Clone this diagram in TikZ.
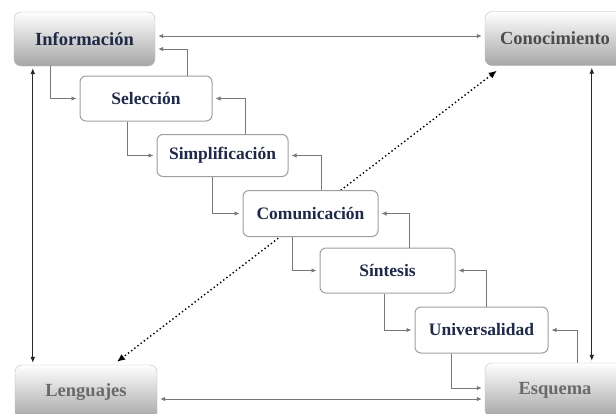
\documentclass[tikz,border=0pt]{standalone}
\usepackage{fontspec}
\setmainfont{Liberation Serif}
\usetikzlibrary{arrows.meta}
\definecolor{navy}{HTML}{1F2A48}
\definecolor{lgray}{HTML}{6A6A6A}
\definecolor{cgray}{HTML}{777777}
\tikzset{
  corner/.style={draw=gray!55, rounded corners=7pt, top color=white, bottom color=gray!70,
    minimum width=141pt, minimum height=54pt, inner sep=0pt,
    font=\fontsize{18.5}{21}\selectfont\bfseries},
  stage/.style={draw=gray!75, line width=1pt, rounded corners=6pt, fill=white,
    minimum height=45pt, inner sep=0pt, text=navy,
    font=\fontsize{17.5}{20}\selectfont\bfseries},
  conn/.style={draw=cgray, line width=0.9pt, -{Latex[length=5pt,width=4.5pt]}, shorten >=3pt},
  biconn/.style={draw=cgray, line width=0.9pt, {Latex[length=5pt,width=4.5pt]}-{Latex[length=5pt,width=4.5pt]}, shorten >=3pt, shorten <=3pt},
  blackconn/.style={draw=black!85, line width=1pt, {Latex[length=6pt,width=5pt]}-{Latex[length=6pt,width=5pt]}, shorten >=2pt, shorten <=2pt},
  dotconn/.style={draw=black, line width=1.4pt, dash pattern=on 1.4pt off 2.6pt, {Latex[length=8pt,width=7pt]}-{Latex[length=8pt,width=7pt]}}
}
\begin{document}
\begin{tikzpicture}[x=1pt,y=-1pt]
\useasboundingbox (0,0) rectangle (616,413);
% corner nodes
\node[corner, text=navy] (info) at (84.5,39) {Información};
\node[corner, text=black!70, minimum width=140pt] (conoc) at (555,38.5) {Conocimiento};
\node[corner, text=lgray, minimum width=142pt] (leng) at (86,392) {Lenguajes};
\node[corner, text=lgray, minimum width=140pt] (esq) at (555,390) {Esquema};
% dotted diagonal (behind stages)
\draw[dotconn] ([xshift=12pt,yshift=-5pt]conoc.south west) -- ([xshift=31pt,yshift=3pt]leng.north);
% stages
\node[stage, minimum width=132pt] (sel) at (146,98.5) {Selección};
\node[stage, minimum width=131pt, minimum height=42pt] (simp) at (222.5,155.5) {Simplificación};
\node[stage, minimum width=135pt, minimum height=46pt] (com) at (310.5,213.5) {Comunicación};
\node[stage, minimum width=135pt] (sint) at (387.5,270.5) {Síntesis};
\node[stage, minimum width=133pt, minimum height=46pt] (univ) at (481.5,330) {Universalidad};
% top / side links
\draw[biconn] ([yshift=3pt]info.east) -- ([yshift=3pt]info.east -| conoc.west);
\draw[biconn] ([yshift=-7pt]leng.east) -- ([yshift=-7pt]leng.east -| esq.west);
\draw[blackconn] ([xshift=19pt]info.south west) -- ([xshift=19pt]info.south west |- leng.north);
\draw[blackconn] ([xshift=107pt]conoc.south west) -- ([xshift=107pt]conoc.south west |- esq.north);
% forward steps
\draw[conn] ([xshift=-34.5pt]info.south) |- (sel.west);
\draw[conn] ([xshift=48pt]sel.south west) |- (simp.west);
\draw[conn] ([xshift=56pt]simp.south west) |- (com.west);
\draw[conn] ([xshift=50pt]com.south west) |- (sint.west);
\draw[conn] ([xshift=65pt]sint.south west) |- (univ.west);
\draw[conn] ([xshift=37pt]univ.south west) |- ([yshift=2pt]esq.west);
% backward steps
\draw[conn] ([xshift=-25pt]sel.north east) |- ([yshift=-10pt]info.east);
\draw[conn] ([xshift=-43pt]simp.north east) |- (sel.east);
\draw[conn] ([xshift=79pt]com.north west) |- (simp.east);
\draw[conn] ([xshift=90pt]sint.north west) |- (com.east);
\draw[conn] ([xshift=72pt]univ.north west) |- (sint.east);
\draw[conn] ([xshift=93pt]esq.north west) |- (univ.east);
\end{tikzpicture}
\end{document}
